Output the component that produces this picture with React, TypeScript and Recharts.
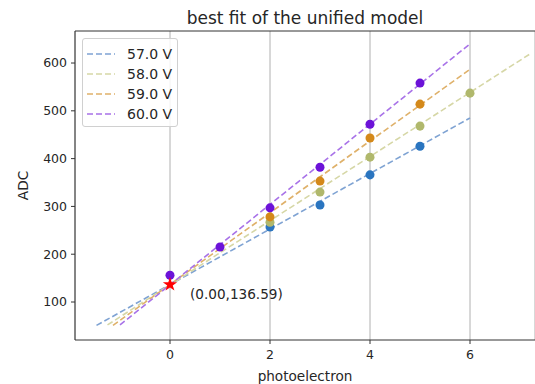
import {
  CartesianGrid,
  ComposedChart,
  ReferenceDot,
  ReferenceLine,
  Scatter,
  XAxis,
  YAxis,
  ZAxis,
} from "recharts";

const FONT = "DejaVu Sans, sans-serif";
const TEXT = "#262626";

// measured points (photoelectron, ADC)
const pts57 = [
  { x: 2, y: 257 },
  { x: 3, y: 303 },
  { x: 4, y: 366 },
  { x: 5, y: 426 },
];
const pts58 = [
  { x: 2, y: 267 },
  { x: 3, y: 330 },
  { x: 4, y: 403 },
  { x: 5, y: 468 },
  { x: 6, y: 537 },
];
const pts59 = [
  { x: 2, y: 278 },
  { x: 3, y: 353 },
  { x: 4, y: 443 },
  { x: 5, y: 514 },
];
const pts60 = [
  { x: 0, y: 156 },
  { x: 1, y: 215 },
  { x: 2, y: 297 },
  { x: 3, y: 382 },
  { x: 4, y: 472 },
  { x: 5, y: 558 },
];

// fitted line end points
const fit57 = [
  { x: -1.47, y: 51 },
  { x: 6, y: 485 },
];
const fit58 = [
  { x: -1.25, y: 52 },
  { x: 7.2, y: 619 },
];
const fit59 = [
  { x: -1.14, y: 51 },
  { x: 6, y: 587 },
];
const fit60 = [
  { x: -1.0, y: 52 },
  { x: 6, y: 640 },
];

const intercept = [{ x: 0, y: 136.59 }];

const xTicks = [0, 2, 4, 6];
const yTicks = [100, 200, 300, 400, 500, 600];
const xDomain = [-1.9, 7.3];
const yDomain = [20.5, 667];

const series = [
  { name: "57.0 V", pts: pts57, fit: fit57, dot: "#2a75c0", line: "#7fa3d3" },
  { name: "58.0 V", pts: pts58, fit: fit58, dot: "#b0b86c", line: "#d6d7a6" },
  { name: "59.0 V", pts: pts59, fit: fit59, dot: "#d4891a", line: "#dfb16a" },
  { name: "60.0 V", pts: pts60, fit: fit60, dot: "#6c12d8", line: "#a872e8" },
];

const noShape = () => <g />;

export default function App() {
  return (
    <div style={{ position: "absolute", left: 0, top: 0, width: 535, height: 384, background: "#fff", fontFamily: FONT }}>
      <div style={{ position: "absolute", left: 75, width: 460, top: 8, textAlign: "center", fontSize: 17, lineHeight: "20px", color: TEXT }}>
        best fit of the unified model
      </div>
      <ComposedChart width={535} height={384} margin={{ top: 31, right: 0, bottom: 0, left: 0 }}>
        <CartesianGrid horizontal={false} stroke="#b0b0b0" strokeWidth={1} />
        <ZAxis range={[100, 100]} />
        <ZAxis zAxisId="star" range={[40, 40]} />
        <XAxis
          type="number"
          dataKey="x"
          domain={xDomain}
          ticks={xTicks}
          allowDataOverflow
          height={44}
          stroke="#333"
          tickSize={4}
          tickMargin={6}
          tick={{ fill: TEXT, fontSize: 12.5, fontFamily: FONT }}
          label={(p: any) => (
            <text x={p.viewBox.x + p.viewBox.width / 2} y={p.viewBox.y + 41} textAnchor="middle" fill={TEXT} fontSize={13.6} fontFamily={FONT}>
              photoelectron
            </text>
          )}
        />
        <YAxis
          type="number"
          dataKey="y"
          domain={yDomain}
          ticks={yTicks}
          allowDataOverflow
          width={75}
          stroke="#333"
          tickSize={4}
          tickMargin={4}
          tick={{ fill: TEXT, fontSize: 12.5, fontFamily: FONT }}
          label={(p: any) => (
            <text x={0} y={0} transform={`translate(28 ${p.viewBox.y + p.viewBox.height / 2}) rotate(-90)`} textAnchor="middle" fill={TEXT} fontSize={13.6} fontFamily={FONT}>
              ADC
            </text>
          )}
        />
        <ReferenceLine y={yDomain[1]} stroke="#333" />
        {series.map((s) => (
          <Scatter
            key={s.name + "fit"}
            data={s.fit}
            line={{ stroke: s.line, strokeWidth: 1.6, strokeDasharray: "6 3" }}
            lineType="joint"
            shape={noShape}
            isAnimationActive={false}
          />
        ))}
        {series.map((s) => (
          <Scatter key={s.name} data={s.pts} fill={s.dot} shape="circle" isAnimationActive={false} />
        ))}
        <Scatter data={intercept} zAxisId="star" fill="#ff0000" shape="star" isAnimationActive={false} />
        <ReferenceDot
          x={0.4}
          y={117}
          r={0}
          stroke="none"
          label={{ value: "(0.00,136.59)", position: "right", offset: 0, fill: TEXT, fontSize: 13.6, fontFamily: FONT }}
        />
      </ComposedChart>
      <div
        style={{
          position: "absolute",
          left: 82,
          top: 38,
          width: 96,
          height: 89,
          border: "1px solid #d0d0d0",
          borderRadius: 3,
          background: "rgba(255,255,255,0.85)",
          boxSizing: "border-box",
          padding: "5px 0 0 4px",
        }}
      >
        {series.map((s) => (
          <div key={s.name} style={{ display: "flex", alignItems: "center", height: 20, fontSize: 14, color: TEXT }}>
            <svg width={30} height={4} style={{ marginRight: 10 }}>
              <line x1={0} y1={2} x2={28} y2={2} stroke={s.line} strokeWidth={1.6} strokeDasharray="6 3" />
            </svg>
            {s.name}
          </div>
        ))}
      </div>
    </div>
  );
}
